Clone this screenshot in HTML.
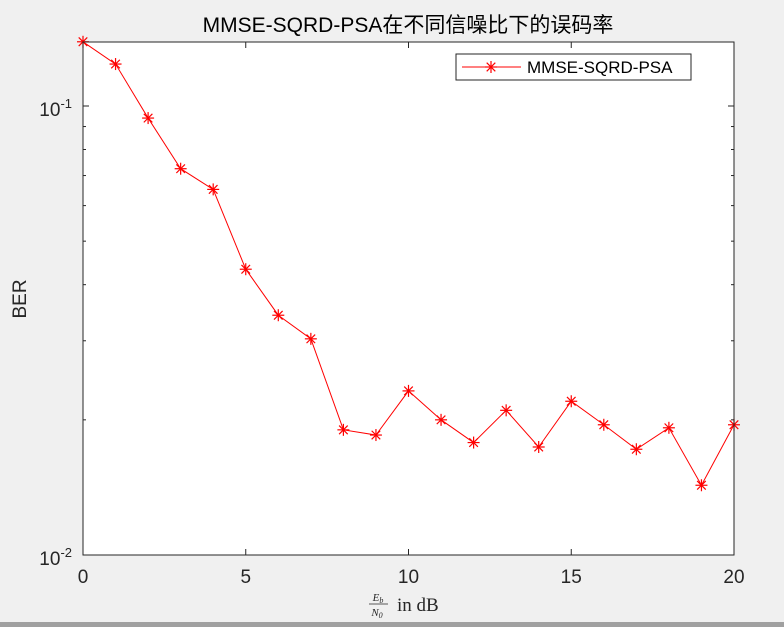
<!DOCTYPE html>
<html><head><meta charset="utf-8">
<style>
html,body{margin:0;padding:0;background:#f0f0f0;}
body{width:784px;height:627px;overflow:hidden;position:relative;}
svg{position:absolute;left:0;top:0;}
</style></head>
<body>
<svg id="chart" width="784" height="627" xmlns="http://www.w3.org/2000/svg" font-family="'Liberation Sans','Noto Sans CJK SC',sans-serif">
<rect x="0" y="622" width="784" height="5" fill="#a0a0a0"/>
<rect x="83" y="42" width="651" height="513" fill="#fff"/>
<g id="ticks"></g>
<g id="series"></g>
<rect x="83" y="42" width="651" height="513" fill="none" stroke="#262626" stroke-width="1"/>
<text x="408" y="32" text-anchor="middle" font-size="21" fill="#000">MMSE-SQRD-PSA在不同信噪比下的误码率</text>
<text transform="translate(26,299) rotate(-90)" text-anchor="middle" font-size="19" fill="#262626">BER</text>
<g font-family="'Liberation Serif',serif" fill="#262626">
<text x="378" y="601" text-anchor="middle" font-size="11" font-style="italic">E<tspan font-size="8" dy="2">b</tspan></text>
<line x1="369" y1="604" x2="388" y2="604" stroke="#262626" stroke-width="0.8"/>
<text x="377" y="616" text-anchor="middle" font-size="11" font-style="italic">N<tspan font-size="8" dy="2">0</tspan></text>
<text x="397" y="611" font-size="19">in dB</text>
</g>
<g>
<rect x="456" y="54" width="235" height="26" fill="#fff" stroke="#262626" stroke-width="1"/>
<line x1="462" y1="67" x2="521" y2="67" stroke="#ff0000" stroke-width="1"/>
<g id="legend-marker"></g>
<text x="527" y="73" font-size="17" fill="#000">MMSE-SQRD-PSA</text>
</g>
</svg>
<script>
const snr = [0,1,2,3,4,5,6,7,8,9,10,11,12,13,14,15,16,17,18,19,20];
const ber = [0.139,0.124,0.094,0.0725,0.0652,0.0433,0.0342,0.0303,0.0190,0.0185,0.0232,0.0200,0.0178,0.0210,0.0174,0.0220,0.0195,0.0172,0.0192,0.0143,0.0195];
const xTicks = [0,5,10,15,20];
const yMajor = [0.1,0.01];
const yMinor = [0.02,0.03,0.04,0.05,0.06,0.07,0.08,0.09];

const L=83,R=734,T=42,B=555;
const yMin=0.01, yMax=Math.pow(10,-1+64/449);
const xs=v=>L+(v-0)/(20-0)*(R-L);
const ys=v=>B-(Math.log10(v)-Math.log10(yMin))/(Math.log10(yMax)-Math.log10(yMin))*(B-T);
const NS='http://www.w3.org/2000/svg';
function mk(tag,attrs,parent){const e=document.createElementNS(NS,tag);for(const k in attrs)e.setAttribute(k,attrs[k]);parent.appendChild(e);return e;}
const tg=document.getElementById('ticks');
xTicks.forEach(t=>{
  const x=xs(t);
  mk('line',{x1:x,y1:B,x2:x,y2:B-6,stroke:'#262626'},tg);
  mk('line',{x1:x,y1:T,x2:x,y2:T+6,stroke:'#262626'},tg);
  const tx=mk('text',{x:x,y:B+28,'text-anchor':'middle','font-size':19,fill:'#262626'},tg);
  tx.textContent=t;
  
  
});
yMajor.forEach(v=>{
  const y=ys(v);
  mk('line',{x1:L,y1:y,x2:L+6,y2:y,stroke:'#262626'},tg);
  mk('line',{x1:R,y1:y,x2:R-6,y2:y,stroke:'#262626'},tg);
  const tx=mk('text',{x:L-11,y:y+10,'text-anchor':'end','font-size':19,fill:'#262626'},tg);
  tx.innerHTML='10<tspan dy="-8" font-size="13">'+Math.round(Math.log10(v))+'</tspan>';
  
  
});
yMinor.forEach(v=>{
  const y=ys(v);
  mk('line',{x1:L,y1:y,x2:L+3,y2:y,stroke:'#262626'},tg);
  mk('line',{x1:R,y1:y,x2:R-3,y2:y,stroke:'#262626'},tg);
});
const sg=document.getElementById('series');
const pts=snr.map((s,i)=>xs(s)+','+ys(ber[i])).join(' ');
const pl=mk('polyline',{points:pts,fill:'none',stroke:'#ff0000','stroke-width':1},sg);


function star(cx,cy,parent){
  const g=mk('g',{stroke:'#ff0000','stroke-width':1.2},parent);
  const r=6,d=4.3;
  mk('line',{x1:cx-r,y1:cy,x2:cx+r,y2:cy},g);
  mk('line',{x1:cx,y1:cy-r,x2:cx,y2:cy+r},g);
  mk('line',{x1:cx-d,y1:cy-d,x2:cx+d,y2:cy+d},g);
  mk('line',{x1:cx-d,y1:cy+d,x2:cx+d,y2:cy-d},g);
  return g;
}
snr.forEach((s,i)=>{
  const g=star(xs(s),ys(ber[i]),sg);
  
  
});
star(491,67,document.getElementById('legend-marker'));
</script>
</body></html>
